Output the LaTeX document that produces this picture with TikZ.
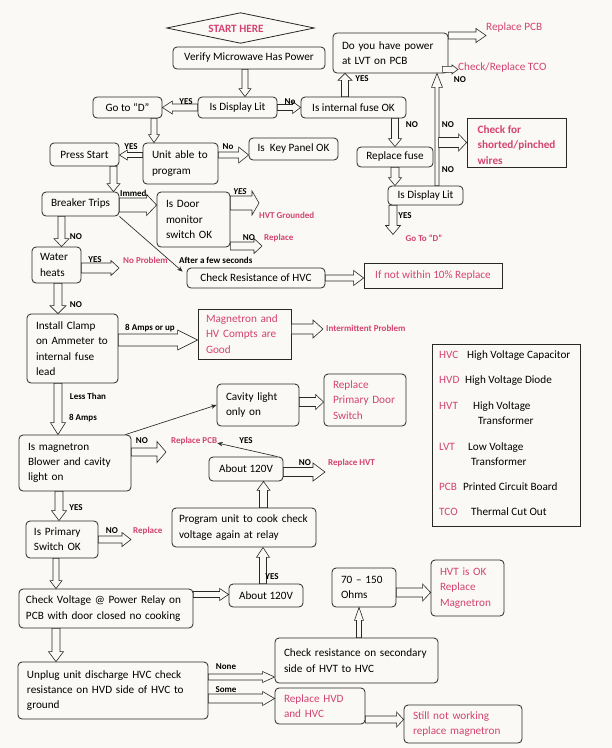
\documentclass[tikz,border=0pt]{standalone}
\usepackage{fontspec}
\setmainfont{Carlito}
\usetikzlibrary{calc,arrows.meta}
\definecolor{bgc}{RGB}{250,249,245}
\definecolor{pinkc}{RGB}{212,66,115}
\definecolor{linec}{RGB}{40,40,40}
\newcommand{\fsmain}{\fontsize{11.2}{15.3}\selectfont}
\newcommand{\fslab}{\fontsize{9}{10.5}\selectfont\bfseries}
\tikzset{
  bas/.store in=\bas, bah/.store in=\bah, bal/.store in=\bal,
  bas=3pt, bah=6.5pt, bal=8pt,
  bstyle/.style={draw=linec, fill=bgc, line width=0.6pt, line join=miter},
  bv/.style={bstyle, to path={let \p1=(\tikztostart), \p4=(\tikztotarget), \p2=(\x1,\y4), \p3=($(\p2)!\bal!(\p1)$) in
    ($(\p1)!\bas!90:(\p2)$) -- ($(\p3)!\bas!90:(\p2)$) -- ($(\p3)!\bah!90:(\p2)$) -- (\p2) -- ($(\p3)!\bah!-90:(\p2)$) -- ($(\p3)!\bas!-90:(\p2)$) -- ($(\p1)!\bas!-90:(\p2)$) -- cycle}},
  bh/.style={bstyle, to path={let \p1=(\tikztostart), \p4=(\tikztotarget), \p2=(\x4,\y1), \p3=($(\p2)!\bal!(\p1)$) in
    ($(\p1)!\bas!90:(\p2)$) -- ($(\p3)!\bas!90:(\p2)$) -- ($(\p3)!\bah!90:(\p2)$) -- (\p2) -- ($(\p3)!\bah!-90:(\p2)$) -- ($(\p3)!\bas!-90:(\p2)$) -- ($(\p1)!\bas!-90:(\p2)$) -- cycle}},
  tarrow/.style={draw=linec, line width=0.65pt, -{Stealth[length=5.5pt,width=4.5pt]}},
  box/.style={draw=linec, line width=0.8pt, rounded corners=4pt, inner sep=0pt, font=\fsmain, align=center},
  lbox/.style={box, align=left, inner xsep=9pt},
  pbox/.style={lbox, text=pinkc},
  sbox/.style={draw=linec, line width=0.8pt, inner sep=0pt, inner xsep=9pt, font=\fsmain, text=pinkc, align=left},
  lab/.style={inner sep=0pt, font=\fslab},
  plab/.style={lab, text=pinkc},
  ptxt/.style={inner sep=0pt, font=\fsmain, text=pinkc},
  legtxt/.style={inner sep=0pt, font=\fsmain, anchor=west, text height=8pt, text depth=2.5pt},
  legab/.style={legtxt, text=pinkc}
}
\begin{document}
\begin{tikzpicture}[x=1pt,y=-1pt]
\useasboundingbox (0,0) rectangle (612,748);
\fill[bgc] (0,0) rectangle (612,748);

% ---------- boxes ----------
\node[minimum width=147pt, minimum height=30pt, inner sep=0pt] (start) at (240.5,28) {};
\draw[draw=linec, line width=0.8pt] (start.west) -- (start.north) -- (start.east) -- (start.south) -- cycle;
\node[inner sep=0pt, font=\fsmain\bfseries, text=pinkc] (starttxt) at (236,29) {START HERE};

\node[box, minimum width=152pt, minimum height=22pt] (verify) at (249,58) {Verify Microwave Has Power};
\node[box, minimum width=79pt, minimum height=21pt] (disp1) at (237.5,107.5) {Is Display Lit};
\node[box, minimum width=69pt, minimum height=21pt] (gotod) at (127.5,107.5) {Go to “D”};
\node[box, minimum width=105pt, minimum height=21pt] (fuse) at (353.5,107.5) {Is internal fuse OK};
\node[lbox, minimum width=75pt, minimum height=41pt, text width=57pt] (unit) at (180.5,163.5) {Unit able to\\program};
\node[box, minimum width=69pt, minimum height=23pt] (press) at (84.5,154.5) {Press Start};
\node[box, minimum width=89pt, minimum height=22pt] (keyp) at (293.5,149) {Is\ \ Key Panel OK};
\node[lbox, minimum width=115pt, minimum height=40pt, text width=97pt] (lvt) at (390.5,53) {Do you have power\\at LVT on PCB};
\node[sbox, minimum width=99pt, minimum height=49pt] (shorted) at (516.5,142.5) {};
\node[inner sep=0pt, font=\fsmain\bfseries, text=pinkc, align=left] (shortedt) at (516.5,145) {Check for\\shorted/pinched\\wires};
\node[box, minimum width=76pt, minimum height=20pt] (replfuse) at (395,157) {Replace fuse};
\node[box, minimum width=75pt, minimum height=19pt] (disp2) at (425.5,195.5) {Is Display Lit};
\node[box, minimum width=77pt, minimum height=24pt] (breaker) at (80.5,204) {Breaker Trips};
\node[lbox, minimum width=73pt, minimum height=55pt, text width=55pt] (door) at (193.5,219.5) {Is Door\\monitor\\switch OK};
\node[box, minimum width=138pt, minimum height=20pt] (checkhvc) at (256,278) {Check Resistance of HVC};
\node[sbox, minimum width=138pt, minimum height=25pt, align=center] (within) at (433,275.5) {If not within 10\% Replace};
\node[lbox, minimum width=49pt, minimum height=36pt, text width=33pt, inner xsep=8pt] (water) at (56.5,265) {Water\\heats};
\node[lbox, minimum width=91pt, minimum height=69pt, text width=73pt] (clamp) at (72.5,348.5) {Install Clamp\\on Ammeter to\\internal fuse\\lead};
\node[sbox, minimum width=93pt, minimum height=50pt, text width=77pt, inner xsep=8pt] (good) at (244.5,334) {Magnetron and\\HV Compts are\\Good};
\node[lbox, minimum width=112pt, minimum height=56pt, text width=94pt] (magq) at (75,463) {Is magnetron\\Blower and cavity\\light on};
\node[lbox, minimum width=82pt, minimum height=42pt, text width=64pt] (cavity) at (258,405) {Cavity light\\only on};
\node[pbox, minimum width=82pt, minimum height=52pt, text width=64pt] (primdoor) at (365,400) {Replace\\Primary Door\\Switch};
\node[box, minimum width=74pt, minimum height=24pt] (a120u) at (246,469) {About 120V};
\node[lbox, minimum width=144pt, minimum height=39pt, text width=130pt, inner xsep=7pt] (prog) at (244,527.5) {Program unit to cook check\\voltage again at relay};
\node[box, minimum width=74pt, minimum height=23pt] (a120l) at (266,595.5) {About 120V};
\node[lbox, minimum width=72pt, minimum height=37pt, text width=56pt, inner xsep=8pt] (primsw) at (62,539.5) {Is Primary\\Switch OK};
\node[lbox, minimum width=174pt, minimum height=39pt, text width=160pt, inner xsep=7pt] (checkv) at (106,608.5) {Check Voltage @ Power Relay on\\PCB with door closed no cooking};
\node[lbox, minimum width=190pt, minimum height=57pt, text width=172pt] (unplug) at (113,690.5) {Unplug unit discharge HVC check\\resistance on HVD side of HVC to\\ground};
\node[lbox, minimum width=163pt, minimum height=45pt, text width=145pt] (secondary) at (356.5,660.5) {Check resistance on secondary\\side of HVT to HVC};
\node[lbox, minimum width=64pt, minimum height=39pt, text width=46pt] (ohms) at (364,587.5) {70 -- 150\\Ohms};
\node[pbox, minimum width=73pt, minimum height=56pt, text width=55pt] (hvtok) at (467.5,588) {HVT is OK\\Replace\\Magnetron};
\node[pbox, minimum width=90pt, minimum height=36pt, text width=72pt] (replhvd) at (320,706) {Replace HVD\\and HVC};
\node[pbox, minimum width=118pt, minimum height=38pt, text width=100pt] (still) at (463,724) {Still not working\\replace magnetron};

% ---------- legend ----------
\node[sbox, minimum width=148pt, minimum height=182pt] (legend) at (506,435) {};
\node[legab] (lga1) at (439,356) {HVC};
\node[legtxt] (lgd1) at (467,356) {High Voltage Capacitor};
\node[legab] (lga2) at (439,381) {HVD};
\node[legtxt] (lgd2) at (465,381) {High Voltage Diode};
\node[legab] (lga3) at (439,407) {HVT};
\node[legtxt] (lgd3) at (473,407) {High Voltage};
\node[legtxt] (lgd3b) at (478,422) {Transformer};
\node[legab] (lga4) at (439,448) {LVT};
\node[legtxt] (lgd4) at (468,448) {Low Voltage};
\node[legtxt] (lgd4b) at (471,463) {Transformer};
\node[legab] (lga5) at (439,488) {PCB};
\node[legtxt] (lgd5) at (463,488) {Printed Circuit Board};
\node[legab] (lga6) at (439,513) {TCO};
\node[legtxt] (lgd6) at (471,513) {Thermal Cut Out};

% ---------- free labels ----------
\node[ptxt, anchor=west] (rpcb) at (486,28) {Replace PCB};
\node[ptxt, anchor=west] (tco) at (458,68) {Check/Replace TCO};
\node[plab] (goto2) at (424,238) {Go To “D”};
\node[plab, anchor=west] (hvtg) at (259,215) {HVT Grounded};
\node[plab, anchor=west] (repl1) at (264,238) {Replace};
\node[plab, anchor=west] (noprob) at (123,260) {No Problem};
\node[plab, anchor=west] (interm) at (326,328) {Intermittent Problem};
\node[plab, anchor=west] (rpcb2) at (171,441) {Replace PCB};
\node[plab, anchor=west] (rhvt) at (328,463) {Replace HVT};
\node[plab, anchor=west] (repl2) at (133,531) {Replace};

% ---------- block arrows ----------
\draw[bv, bas=3pt, bah=6pt, bal=8pt] ([xshift=-4pt]verify.south) to (disp1.north);
\draw[bh, bas=3.5pt, bah=6.5pt, bal=10pt] (disp1.west) to (gotod.east);
\draw[bh, bas=3pt, bah=6pt, bal=8pt] (disp1.east) to (fuse.west);
\draw[bv, bas=3pt, bah=5.5pt, bal=8pt] ([xshift=26.5pt]gotod.south) to (unit.north);
\draw[bh, bas=2.5pt, bah=5pt, bal=8pt] ([yshift=8.5pt]unit.west) to (press.east);
\draw[bh, bas=3pt, bah=8pt, bal=10pt] ([yshift=8.5pt]unit.east) to (keyp.west);
\draw[bv, bas=3.5pt, bah=6.5pt, bal=8pt] ([xshift=29pt]press.south) to (breaker.north);
\draw[bv, bas=3.5pt, bah=7pt, bal=7pt] ([xshift=-8.5pt]fuse.north) to (lvt.south);
\draw[bh, bas=3.5pt, bah=7pt, bal=10pt] ([yshift=17.5pt]lvt.east) to (rpcb.west);
\draw[bh, bas=3pt, bah=4.5pt, bal=6pt] ([shift={(-6pt,4pt)}]lvt.south east) to (tco.west);
\draw[bv, bas=2pt, bah=5.5pt, bal=14pt] ([xshift=11.5pt]disp2.north) to (lvt.south);
\coordinate (br1) at ([xshift=-28pt]shorted.west);
\draw[bh, bas=5pt, bah=8.5pt, bal=8pt] (br1) to (shorted.west);
\draw[bv, bas=3.5pt, bah=6.5pt, bal=8pt] (fuse.south -| replfuse.north) to (replfuse.north);
\draw[bv, bas=4pt, bah=6.5pt, bal=8pt] (replfuse.south) to (disp2.north);
\draw[bv, bas=4pt, bah=7.5pt, bal=9pt] ([xshift=-32.5pt]disp2.south) to (goto2.north);
\draw[bh, bas=7pt, bah=10.5pt, bal=10pt] ([yshift=-1pt]breaker.east) to (door.west);
\draw[bh, bas=7pt, bah=12pt, bal=7pt] ([yshift=16.5pt]door.east) to (hvtg.west);
\draw[bh, bas=4pt, bah=7.5pt, bal=8pt] ([yshift=-26.5pt]door.east) to ([xshift=-2pt]repl1.west);
\draw[bh, bas=3pt, bah=7.5pt, bal=10pt] (checkhvc.east) to (within.west);
\draw[bv, bas=3.5pt, bah=7.5pt, bal=8pt] ([xshift=-19pt]breaker.south) to (water.north);
\draw[bh, bas=5pt, bah=7.5pt, bal=8pt] ([yshift=-3pt]water.east) to ([xshift=-4pt]noprob.west);
\draw[bv, bas=4pt, bah=8pt, bal=8pt] ([xshift=1.5pt]water.south) to (clamp.north);
\draw[bh, bas=6pt, bah=10pt, bal=20pt] ([yshift=8.5pt]clamp.east) to (good.west);
\draw[bh, bas=5pt, bah=9pt, bal=10pt] ([yshift=5pt]good.east) to ([xshift=-3pt]interm.west);
\draw[bv, bas=4pt, bah=7.5pt, bal=12pt] ([xshift=-14.5pt]clamp.south) to (magq.north);
\draw[bh, bas=4.5pt, bah=7.5pt, bal=8pt] ([yshift=3pt]cavity.east) to (primdoor.west);
\draw[bh, bas=4pt, bah=10.5pt, bal=9pt] ([yshift=11pt]magq.east) to ([xshift=-5pt]rpcb2.west);
\draw[bh, bas=4.5pt, bah=9pt, bal=12pt] ([yshift=-3pt]a120u.east) to ([xshift=-3pt]rhvt.west);
\draw[bv, bas=4pt, bah=6.5pt, bal=9pt] ([xshift=19.5pt]prog.north) to (a120u.south);
\draw[bv, bas=3.5pt, bah=6.5pt, bal=10pt] ([xshift=-3pt]a120l.north) to (prog.south);
\draw[bh, bas=3pt, bah=6pt, bal=9pt] ([yshift=14pt]checkv.east) to (a120l.west);
\draw[bv, bas=4pt, bah=7.5pt, bal=10pt] ([xshift=-16pt]magq.south) to (primsw.north);
\draw[bh, bas=3.5pt, bah=7pt, bal=9pt] (primsw.east) to ([xshift=-2pt]repl2.west);
\draw[bv, bas=3pt, bah=6pt, bal=8pt] ([xshift=-6pt]primsw.south) to (checkv.north);
\draw[bv, bas=4pt, bah=7.5pt, bal=10pt] ([xshift=-50pt]checkv.south) to (unplug.north);
\draw[bh, bas=3pt, bah=5.5pt, bal=12pt] ([yshift=13.5pt]unplug.east) to (secondary.west);
\draw[bh, bas=4.5pt, bah=7pt, bal=12pt] ([yshift=-8pt]unplug.east) to (replhvd.west);
\draw[bv, bas=2.5pt, bah=4.5pt, bal=13pt] ([xshift=2.5pt]secondary.north) to (ohms.south);
\draw[bh, bas=4.5pt, bah=8.5pt, bal=8pt] ([yshift=-5pt]ohms.east) to (hvtok.west);
\draw[bh, bas=3.5pt, bah=7.5pt, bal=7pt] ([yshift=-13.5pt]replhvd.east) to (still.west);

% ---------- thin arrows ----------
\draw[tarrow] (breaker.south east) -- ([shift={(-4pt,-4pt)}]checkhvc.north west);
\draw[tarrow] ([xshift=-6pt]magq.north east) -- (cavity.west);
\draw[tarrow] ([xshift=-6pt]a120u.north east) -- ([yshift=-2pt]rpcb2.east);

% ---------- small labels ----------
\node[lab] (y1) at (186,102) {YES};
\node[lab] (n1) at (290,102) {No};
\node[lab] (y2) at (131,147) {YES};
\node[lab] (n2) at (228,147) {No};
\node[lab] (y3) at (362,79) {YES};
\node[lab] (n3) at (460,80) {NO};
\node[lab] (n4) at (412,125) {NO};
\node[lab] (n5) at (448,125) {NO};
\node[lab] (n6) at (448,170) {NO};
\node[lab] (y4) at (405,216) {YES};
\node[lab] (imm) at (134.5,193) {Immed.};
\node[lab, font=\fslab\itshape] (y5) at (240,192) {YES};
\node[lab] (n7) at (249,238) {NO};
\node[lab] (y6) at (95,260) {YES};
\node[lab, anchor=west] (after) at (179,260) {After a few seconds};
\node[lab] (n8) at (76,237) {NO};
\node[lab] (n9) at (76,305) {NO};
\node[lab] (amps1) at (150,328) {8 Amps or up};
\node[lab] (less) at (88,396) {Less Than};
\node[lab] (amps2) at (83,418) {8 Amps};
\node[lab] (n10) at (142,441) {NO};
\node[lab] (y7) at (246,441) {YES};
\node[lab] (n11) at (305,463) {NO};
\node[lab] (y8) at (76,508) {YES};
\node[lab] (n12) at (112,531) {NO};
\node[lab] (y9) at (272,577) {YES};
\node[lab] (none) at (226,667) {None};
\node[lab] (some) at (226,690) {Some};
\end{tikzpicture}
\end{document}
